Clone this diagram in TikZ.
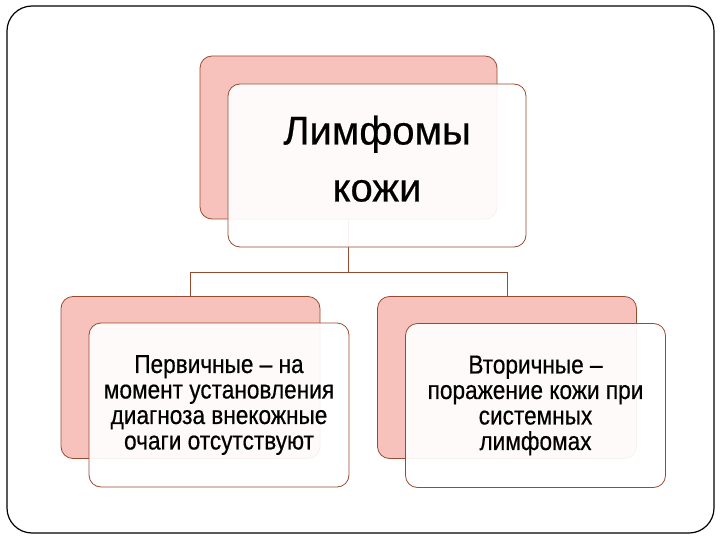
\documentclass[tikz,border=0pt]{standalone}
\usepackage{fontspec}
\setmainfont{Liberation Sans}[FakeStretch=0.87, FakeBold=0.5]
\newfontfamily\titlefont{Liberation Sans}[FakeBold=0.5]
\definecolor{mypink}{RGB}{248,194,188}
\definecolor{mybrown}{RGB}{150,75,50}
\tikzset{back/.style={draw=mybrown, line width=0.8pt, fill=mypink, rounded corners=12pt, minimum width=259pt, minimum height=162pt, inner sep=0pt}}
\tikzset{front/.style={back, fill=white, fill opacity=0.93, text opacity=1, minimum width=260pt, minimum height=164pt, align=center}}
\tikzset{item/.style={front, font=\fontsize{26}{25.5}\selectfont}}
\tikzset{link/.style={draw=mybrown, line width=0.7pt}}

\begin{document}
\begin{tikzpicture}[x=1pt,y=-1pt]
\useasboundingbox (0,0) rectangle (720,540);
\draw[line width=1.2pt, rounded corners=25pt] (7,6) rectangle (714,533);
\node[back, minimum width=297pt, minimum height=163pt] (topback) at (348.5,137.5) {};
\node[back] (leftback) at (190.5,377.5) {};
\node[back] (rightback) at (507,377.5) {};
\draw[link] (topback.south) -- +(0,53) -| (leftback.north);
\draw[link] (topback.south) -- +(0,53) -| (rightback.north);
\node[front, minimum width=298pt, minimum height=163pt, text depth=14pt, font=\titlefont\fontsize{40}{57}\selectfont] (topfront) at (377,165.5) {Лимфомы\\кожи};
\node[item] (leftfront) at (219,405) {Первичные – на\\момент установления\\диагноза внекожные\\очаги отсутствуют};
\node[item] (rightfront) at (535.5,405.5) {Вторичные –\\поражение кожи при\\системных\\лимфомах};
\end{tikzpicture}
\end{document}
